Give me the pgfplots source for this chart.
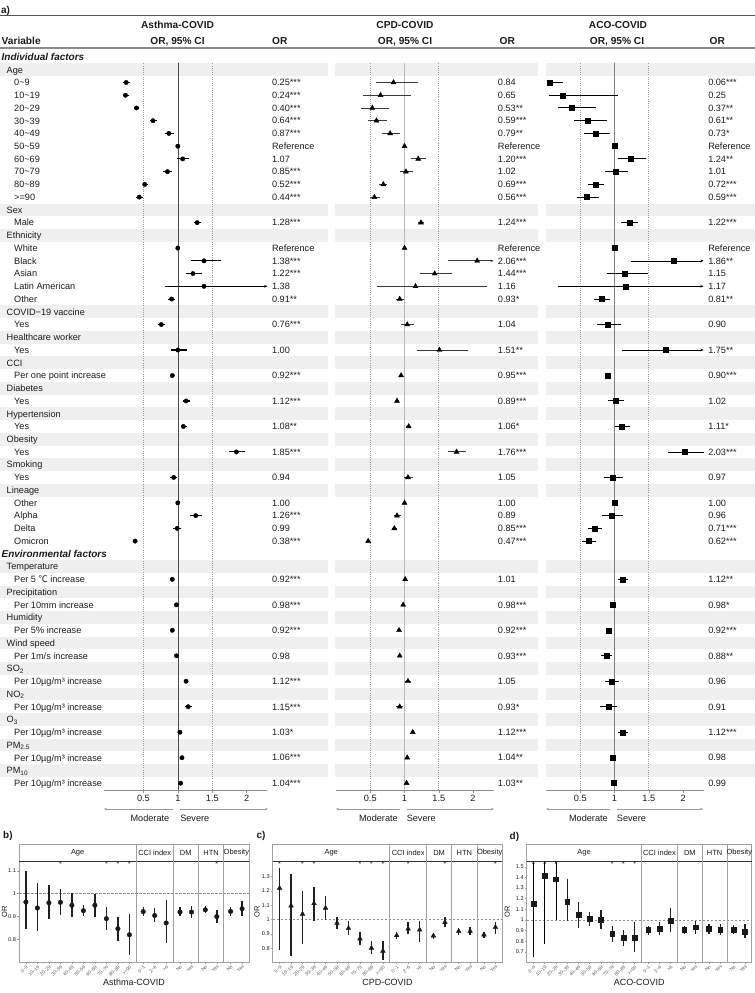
\documentclass[border=0pt]{standalone}
\usepackage{pgfplots}
\pgfplotsset{compat=1.18}
\usepackage{pgfplotstable}
\usepackage{fontspec}
\setmainfont{Liberation Sans}
\newfontfamily\cjk{Noto Sans CJK SC}
\usetikzlibrary{arrows.meta}

\definecolor{band}{HTML}{EFEFEF}
\definecolor{txt}{HTML}{1A1A1A}
\definecolor{rule}{HTML}{555555}
\definecolor{rule2}{HTML}{8A8A8A}
\definecolor{dotln}{HTML}{9A9A9A}
\definecolor{axgray}{HTML}{8A8A8A}
\definecolor{frame}{HTML}{A0A0A0}
\definecolor{ticklab}{HTML}{5A5A5A}
\definecolor{cpdci}{HTML}{3A3A3A}

\newcommand{\fs}{\fontsize{9.2}{11}\selectfont}
\newcommand{\fh}{\fontsize{10}{12}\selectfont}

% ---------- forest plot data: row (1 = Individual factors), OR, 95% CI, printed label, arrow flag
\pgfplotstableread{
row or lo hi lab arr
3 0.25 0.21 0.31 0.25*** 0
4 0.24 0.20 0.29 0.24*** 0
5 0.40 0.37 0.44 0.40*** 0
6 0.64 0.59 0.70 0.64*** 0
7 0.87 0.81 0.94 0.87*** 0
8 1 1 1 Reference 0
9 1.07 0.99 1.16 1.07 0
10 0.85 0.79 0.91 0.85*** 0
11 0.52 0.49 0.56 0.52*** 0
12 0.44 0.39 0.50 0.44*** 0
14 1.28 1.23 1.34 1.28*** 0
16 1 1 1 Reference 0
17 1.38 1.19 1.62 1.38*** 0
18 1.22 1.12 1.35 1.22*** 0
19 1.38 0.81 2.30 1.38 1
20 0.91 0.86 0.96 0.91** 0
22 0.76 0.71 0.82 0.76*** 0
24 1.00 0.90 1.13 1.00 0
26 0.92 0.91 0.93 0.92*** 0
28 1.12 1.07 1.17 1.12*** 0
30 1.08 1.04 1.13 1.08** 0
32 1.85 1.74 1.98 1.85*** 0
34 0.94 0.89 0.99 0.94 0
36 1.00 1.00 1.00 1.00 0
37 1.26 1.18 1.35 1.26*** 0
38 0.99 0.93 1.05 0.99 0
39 0.38 0.37 0.39 0.38*** 0
42 0.92 0.91 0.93 0.92*** 0
44 0.98 0.97 0.99 0.98*** 0
46 0.92 0.91 0.93 0.92*** 0
48 0.98 0.96 1.00 0.98 0
50 1.12 1.09 1.15 1.12*** 0
52 1.15 1.10 1.20 1.15*** 0
54 1.03 1.02 1.04 1.03* 0
56 1.06 1.05 1.07 1.06*** 0
58 1.04 1.03 1.05 1.04*** 0
}\asthma

\pgfplotstableread{
row or lo hi lab arr
3 0.84 0.58 1.20 0.84 0
4 0.65 0.39 1.09 0.65 0
5 0.53 0.36 0.77 0.53** 0
6 0.59 0.46 0.75 0.59*** 0
7 0.79 0.67 0.93 0.79** 0
8 1 1 1 Reference 0
9 1.20 1.09 1.32 1.20*** 0
10 1.02 0.93 1.12 1.02 0
11 0.69 0.63 0.75 0.69*** 0
12 0.56 0.49 0.64 0.56*** 0
14 1.24 1.19 1.29 1.24*** 0
16 1 1 1 Reference 0
17 2.06 1.64 2.30 2.06*** 1
18 1.44 1.23 1.69 1.44*** 0
19 1.16 0.60 2.20 1.16 0
20 0.93 0.87 0.99 0.93* 0
22 1.04 0.95 1.14 1.04 0
24 1.51 1.18 1.93 1.51** 0
26 0.95 0.94 0.96 0.95*** 0
28 0.89 0.86 0.92 0.89*** 0
30 1.06 1.02 1.10 1.06* 0
32 1.76 1.64 1.89 1.76*** 0
34 1.05 0.99 1.12 1.05 0
36 1 1 1 1.00 0
37 0.89 0.84 0.95 0.89 0
38 0.85 0.81 0.89 0.85*** 0
39 0.47 0.45 0.49 0.47*** 0
42 1.01 1.00 1.02 1.01 0
44 0.98 0.97 0.99 0.98*** 0
46 0.92 0.91 0.93 0.92*** 0
48 0.93 0.92 0.94 0.93*** 0
50 1.05 1.00 1.10 1.05 0
52 0.93 0.88 0.98 0.93* 0
54 1.12 1.11 1.13 1.12*** 0
56 1.04 1.03 1.05 1.04** 0
58 1.03 1.02 1.04 1.03** 0
}\cpd

\pgfplotstableread{
row or lo hi lab arr
3 0.06 0.01 0.25 0.06*** 0
4 0.25 0.05 1.05 0.25 0
5 0.37 0.18 0.73 0.37** 0
6 0.61 0.41 0.89 0.61** 0
7 0.73 0.55 0.94 0.73* 0
8 1 1 1 Reference 0
9 1.24 1.05 1.46 1.24** 0
10 1.01 0.86 1.19 1.01 0
11 0.72 0.61 0.84 0.72*** 0
12 0.59 0.45 0.77 0.59*** 0
14 1.22 1.10 1.34 1.22*** 0
16 1 1 1 Reference 0
17 1.86 1.24 2.30 1.86** 1
18 1.15 0.89 1.49 1.15 0
19 1.17 0.18 2.30 1.17 1
20 0.81 0.70 0.93 0.81** 0
22 0.90 0.75 1.09 0.90 0
24 1.75 1.11 2.30 1.75** 1
26 0.90 0.88 0.92 0.90*** 0
28 1.02 0.90 1.14 1.02 0
30 1.11 1.01 1.23 1.11* 0
32 2.03 1.78 2.30 2.03*** 1
34 0.97 0.84 1.12 0.97 0
36 1 1 1 1.00 0
37 0.96 0.81 1.12 0.96 0
38 0.71 0.61 0.82 0.71*** 0
39 0.62 0.52 0.73 0.62*** 0
42 1.12 1.05 1.20 1.12** 0
44 0.98 0.96 1.00 0.98* 0
46 0.92 0.90 0.94 0.92*** 0
48 0.88 0.80 0.96 0.88** 0
50 0.96 0.86 1.06 0.96 0
52 0.91 0.79 1.04 0.91 0
54 1.12 1.05 1.19 1.12*** 0
56 0.98 0.95 1.01 0.98 0
58 0.99 0.97 1.01 0.99 0
}\aco

% ---------- subgroup panels: x position, OR, 95% CI, arrow flag
\pgfplotstableread{
pos or lo hi arr
0.6 0.963 0.846 1.099 0
1.6 0.937 0.835 1.049 0
2.6 0.960 0.887 1.040 0
3.6 0.962 0.904 1.022 0
4.6 0.949 0.897 1.004 0
5.6 0.925 0.901 0.951 0
6.6 0.949 0.897 1.000 0
7.6 0.890 0.841 0.941 0
8.6 0.846 0.791 0.897 0
9.6 0.819 0.732 0.912 0
10.8 0.921 0.900 0.941 0
11.8 0.904 0.874 0.938 0
12.8 0.871 0.784 0.971 0
14.0 0.919 0.900 0.940 0
15.0 0.919 0.893 0.944 0
16.2 0.929 0.915 0.947 0
17.2 0.899 0.872 0.926 0
18.4 0.922 0.903 0.943 0
19.4 0.934 0.900 0.969 0
}\panelb

\pgfplotstableread{
pos or lo hi arr
0.6 1.220 0.785 1.363 0
1.6 1.097 0.743 1.322 0
2.6 1.039 0.831 1.201 0
3.6 1.113 0.993 1.229 0
4.6 1.081 0.998 1.164 0
5.6 0.975 0.935 1.016 0
6.6 0.940 0.889 0.993 0
7.6 0.866 0.819 0.912 0
8.6 0.801 0.757 0.850 0
9.6 0.780 0.715 0.850 0
10.8 0.889 0.866 0.912 0
11.8 0.935 0.900 0.981 0
12.8 0.928 0.843 0.993 0
14.0 0.887 0.866 0.905 0
15.0 0.981 0.947 1.016 0
16.2 0.919 0.889 0.942 0
17.2 0.919 0.889 0.951 0
18.4 0.894 0.873 0.912 0
19.4 0.947 0.900 0.986 0
}\panelc

\pgfplotstableread{
pos or lo hi arr
0.6 1.150 0.650 1.554 1
1.6 1.414 0.776 1.554 1
2.6 1.383 1.000 1.554 1
3.6 1.171 0.994 1.383 0
4.6 1.047 0.922 1.171 0
5.6 1.009 0.947 1.072 0
6.6 1.000 0.916 1.093 0
7.6 0.869 0.791 0.938 0
8.6 0.829 0.751 0.907 0
9.6 0.829 0.698 0.978 0
10.8 0.907 0.860 0.947 0
11.8 0.916 0.854 0.978 0
12.8 0.994 0.885 1.109 0
14.0 0.907 0.869 0.938 0
15.0 0.931 0.869 0.994 0
16.2 0.916 0.869 0.963 0
17.2 0.907 0.854 0.963 0
18.4 0.910 0.869 0.953 0
19.4 0.891 0.829 0.963 0
}\paneld

\pgfplotsset{
  forest/.style={
    scale only axis, anchor=north west,
    height=726.8bp, ymin=-58.55, ymax=-1.5, xmax=2.3,
    axis y line=none, axis x line*=bottom,
    x axis line style={draw=axgray, line width=0.5bp, -},
    xtick={0.5,1,1.5,2}, xticklabels={0.5,1,1.5,2},
    tick style={draw=axgray, line width=0.5bp},
    major tick length=2.5bp, tick align=outside,
    xticklabel style={font=\fs, text=txt, inner sep=2bp},
    clip=false,
  },
  orlab/.style={draw=none, mark=none, nodes near coords, point meta=explicit symbolic,
    nodes near coords style={font=\fs, text=txt, anchor=base west, inner sep=0pt, yshift=-3.3bp}},
  forestpts/.style={only marks, color=black,
    error bars/x dir=both, error bars/x explicit, error bars/error mark=none},
  facet/.style={
    scale only axis, anchor=north west, height=101bp,
    xmin=0, xmax=20, clip=false,
    axis line style={draw=frame, line width=0.6bp},
    xtick={0.6,1.6,2.6,3.6,4.6,5.6,6.6,7.6,8.6,9.6,10.8,11.8,12.8,14,15,16.2,17.2,18.4,19.4},
    xticklabels={0\textasciitilde9,10\textasciitilde19,20\textasciitilde29,30\textasciitilde39,40\textasciitilde49,50\textasciitilde59,60\textasciitilde69,70\textasciitilde79,80\textasciitilde89,{>=90},0\textasciitilde1,2\textasciitilde6,{>6},No,Yes,No,Yes,No,Yes},
    x tick label style={rotate=45, anchor=north east, font=\fontsize{4.8}{5}\selectfont, text=ticklab, inner sep=0.6bp},
    y tick label style={font=\fontsize{5.6}{6.5}\selectfont, text=txt, inner sep=1bp},
    tick style={draw=frame, line width=0.5bp}, major tick length=1.8bp, tick align=outside,
    tick pos=left,
    ylabel={OR}, ylabel style={font=\fontsize{7.5}{8.5}\selectfont, text=txt, inner sep=0bp, anchor=center},
  },
  subpts/.style={only marks, color=black!90,
    error bars/y dir=both, error bars/y explicit, error bars/error mark=none,
    error bars/error bar style={line width=1.4bp, black!88}},
}

% facet strip, panel separators and reference line
\newcommand{\facetdecor}[1]{%
  \draw[black!45, dashed, dash pattern=on 2.5bp off 1.5bp, line width=0.6bp] (axis cs:0,1) -- (axis cs:20,1);
  \draw[frame, line width=0.6bp] (rel axis cs:0,1) rectangle (rel axis cs:1,1.168);
  \draw[black!80, line width=0.9bp] (rel axis cs:0,1) -- (rel axis cs:1,1);
  \draw[frame, line width=0.6bp] (rel axis cs:0.51,0) -- (rel axis cs:0.51,1.168);
  \draw[frame, line width=0.6bp] (rel axis cs:0.67,0) -- (rel axis cs:0.67,1.168);
  \draw[frame, line width=0.6bp] (rel axis cs:0.78,0) -- (rel axis cs:0.78,1.168);
  \draw[frame, line width=0.6bp] (rel axis cs:0.89,0) -- (rel axis cs:0.89,1.168);
  \begin{scope}[font=\fontsize{7.5}{8}\selectfont, text=txt]
  \node at (rel axis cs:0.255,1.084) {Age};
  \node at (rel axis cs:0.59,1.084) {CCI index};
  \node at (rel axis cs:0.725,1.084) {DM};
  \node at (rel axis cs:0.835,1.084) {HTN};
  \node at (rel axis cs:0.945,1.084) {Obesity};
  \end{scope}
  \node[font=\fontsize{9}{10}\selectfont, text=txt, anchor=base] at (rel axis cs:0.5,0) [yshift=-23bp] {#1};
}

\begin{document}
\begin{tikzpicture}
\path[use as bounding box] (0,0) rectangle (755bp,-993bp);

\begin{scope}[x=1bp,y=1bp]
  % shaded group-header rows
  \foreach \rw in {2,13,15,21,23,25,27,29,31,33,35,41,43,45,47,49,51,53,55,57} {
    \fill[band] (0,{-(57+(\rw-1)*12.74)+6.37}) rectangle (328,{-(57+(\rw-1)*12.74)-6.37});
    \fill[band] (335,{-(57+(\rw-1)*12.74)+6.37}) rectangle (538,{-(57+(\rw-1)*12.74)-6.37});
    \fill[band] (546,{-(57+(\rw-1)*12.74)+6.37}) rectangle (755,{-(57+(\rw-1)*12.74)-6.37});
  }
  % header
  \node[anchor=base west, inner sep=0, font=\bfseries\fh, text=txt] at (1,-13) {a)};
  \draw[rule, line width=0.9bp] (0,-15.5) -- (755,-15.5);
  \draw[rule2, line width=1.8bp] (0,-48) -- (755,-48);
  \begin{scope}[font=\bfseries\fontsize{10.2}{12}\selectfont, text=txt, inner sep=0]
    \node[anchor=base] at (177.5,-28.5) {Asthma-COVID};
    \node[anchor=base] at (405,-28.5) {CPD-COVID};
    \node[anchor=base] at (618,-28.5) {ACO-COVID};
    \node[anchor=base west] at (1.5,-44) {Variable};
    \node[anchor=base] at (177.5,-44) {OR, 95\% CI};
    \node[anchor=base] at (405,-44) {OR, 95\% CI};
    \node[anchor=base] at (617,-44) {OR, 95\% CI};
    \node[anchor=base west] at (272,-44) {OR};
    \node[anchor=base west] at (499.5,-44) {OR};
    \node[anchor=base west] at (709.5,-44) {OR};
    \node[anchor=base west, font=\bfseries\itshape\fontsize{10}{12}\selectfont] at (1.5,-60.5) {Individual factors};
    \node[anchor=base west, font=\bfseries\itshape\fontsize{10}{12}\selectfont] at (1.5,{-(57+39*12.74)-3.5}) {Environmental factors};
  \end{scope}
  % variable column
  \begin{scope}[font=\fs, text=txt, inner sep=0]
  \foreach \rw/\lb in {2/Age,13/Sex,15/Ethnicity,21/{COVID−19 vaccine},23/{Healthcare worker},25/CCI,27/Diabetes,29/Hypertension,31/Obesity,33/Smoking,35/Lineage,41/Temperature,43/Precipitation,45/Humidity,47/{Wind speed},49/{SO\textsubscript{2}},51/{NO\textsubscript{2}},53/{O\textsubscript{3}},55/{PM\textsubscript{2.5}},57/{PM\textsubscript{10}}}
    \node[anchor=base west] at (6.5,{-(57+(\rw-1)*12.74)-3.3}) {\lb};
  \foreach \rw/\lb in {3/0\textasciitilde9,4/10\textasciitilde19,5/20\textasciitilde29,6/30\textasciitilde39,7/40\textasciitilde49,8/50\textasciitilde59,9/60\textasciitilde69,10/70\textasciitilde79,11/80\textasciitilde89,12/{>=90},14/Male,16/White,17/Black,18/Asian,19/{Latin American},20/Other,22/Yes,24/Yes,26/{Per one point increase},28/Yes,30/Yes,32/Yes,34/Yes,36/Other,37/Alpha,38/Delta,39/Omicron,42/{Per 5 {\cjk ℃} increase},44/{Per 10mm increase},46/{Per 5\% increase},48/{Per 1m/s increase},50/{Per 10µg/m³ increase},52/{Per 10µg/m³ increase},54/{Per 10µg/m³ increase},56/{Per 10µg/m³ increase},58/{Per 10µg/m³ increase}}
    \node[anchor=base west] at (14,{-(57+(\rw-1)*12.74)-3.3}) {\lb};
  \end{scope}
  % direction arrows under each forest column
  \begin{scope}[draw=black!40, line width=0.5bp, font=\fs, text=txt, inner sep=0]
    \draw[-{Stealth[length=3bp,width=2.4bp]}] (173.3,-809) -- (104,-809);
    \draw[-{Stealth[length=3bp,width=2.4bp]}] (180,-809) -- (268,-809);
    \node[anchor=base east] at (169.5,-821) {Moderate};
    \node[anchor=base west] at (180,-821) {Severe};
    \draw[-{Stealth[length=3bp,width=2.4bp]}] (400,-809) -- (336,-809);
    \draw[-{Stealth[length=3bp,width=2.4bp]}] (406.5,-809) -- (494,-809);
    \node[anchor=base east] at (398,-821) {Moderate};
    \node[anchor=base west] at (406.5,-821) {Severe};
    \draw[-{Stealth[length=3bp,width=2.4bp]}] (610,-809) -- (546,-809);
    \draw[-{Stealth[length=3bp,width=2.4bp]}] (616.7,-809) -- (703,-809);
    \node[anchor=base east] at (608,-821) {Moderate};
    \node[anchor=base west] at (616.7,-821) {Severe};
  \end{scope}
  % panel tags
  \begin{scope}[font=\bfseries\fh, text=txt, inner sep=0]
    \node[anchor=base west] at (3,-838) {b)};
    \node[anchor=base west] at (256.5,-838) {c)};
    \node[anchor=base west] at (509.5,-839) {d)};
  \end{scope}
\end{scope}

% ---------------- Asthma-COVID
\begin{axis}[forest, at={(104.1bp,-63.37bp)}, width=163.3bp, xmin=-0.07]
  \draw[dotln, line width=0.6bp, dash pattern=on 1bp off 1.2bp] (axis cs:0.5,-1.5) -- (axis cs:0.5,-58.55);
  \draw[dotln, line width=0.6bp, dash pattern=on 1bp off 1.2bp] (axis cs:1.5,-1.5) -- (axis cs:1.5,-58.55);
  \draw[black!70, line width=0.6bp] (axis cs:1,-1.5) -- (axis cs:1,-58.55);
  \addplot[forestpts, mark=*, mark size=2.2bp, error bars/error bar style={line width=1.1bp, black}]
    table[x=or, y expr=-\thisrow{row},
      x error plus expr=(1-\thisrow{arr})*(\thisrow{hi}-\thisrow{or}),
      x error minus expr=(1-\thisrow{arr})*(\thisrow{or}-\thisrow{lo})] {\asthma};
  \addplot[black, line width=0.55bp, -{Stealth[length=3.2bp,width=2.6bp]}] coordinates {(0.81,-19) (2.30,-19)};
  \addplot[orlab] table[x expr=2.365, y expr=-\thisrow{row}, meta=lab] {\asthma};
\end{axis}

% ---------------- CPD-COVID
\begin{axis}[forest, at={(336bp,-63.37bp)}, width=157.6bp, xmin=0]
  \draw[dotln, line width=0.6bp, dash pattern=on 1bp off 1.2bp] (axis cs:0.5,-1.5) -- (axis cs:0.5,-58.55);
  \draw[dotln, line width=0.6bp, dash pattern=on 1bp off 1.2bp] (axis cs:1.5,-1.5) -- (axis cs:1.5,-58.55);
  \draw[black!28, line width=1.8bp] (axis cs:1,-1.5) -- (axis cs:1,-58.55);
  \addplot[forestpts, mark=triangle*, mark size=2.9bp, error bars/error bar style={line width=0.9bp, cpdci}]
    table[x=or, y expr=-\thisrow{row},
      x error plus expr=(1-\thisrow{arr})*(\thisrow{hi}-\thisrow{or}),
      x error minus expr=(1-\thisrow{arr})*(\thisrow{or}-\thisrow{lo})] {\cpd};
  \addplot[cpdci, line width=0.8bp, -{Stealth[length=3.2bp,width=2.6bp]}] coordinates {(1.64,-17) (2.30,-17)};
  \addplot[orlab] table[x expr=2.36, y expr=-\thisrow{row}, meta=lab] {\cpd};
\end{axis}

% ---------------- ACO-COVID
\begin{axis}[forest, at={(546bp,-63.37bp)}, width=157.6bp, xmin=0]
  \draw[dotln, line width=0.6bp, dash pattern=on 1bp off 1.2bp] (axis cs:0.5,-1.5) -- (axis cs:0.5,-58.55);
  \draw[dotln, line width=0.6bp, dash pattern=on 1bp off 1.2bp] (axis cs:1.5,-1.5) -- (axis cs:1.5,-58.55);
  \draw[black!50, line width=0.8bp] (axis cs:1,-1.5) -- (axis cs:1,-58.55);
  \addplot[forestpts, mark=square*, mark size=2.5bp, error bars/error bar style={line width=1.0bp, black}]
    table[x=or, y expr=-\thisrow{row},
      x error plus expr=(1-\thisrow{arr})*(\thisrow{hi}-\thisrow{or}),
      x error minus expr=(1-\thisrow{arr})*(\thisrow{or}-\thisrow{lo})] {\aco};
  \addplot[black, line width=0.55bp, -{Stealth[length=3.2bp,width=2.6bp]}] coordinates {(1.24,-17) (2.30,-17)};
  \addplot[black, line width=0.55bp, -{Stealth[length=3.2bp,width=2.6bp]}] coordinates {(0.18,-19) (2.30,-19)};
  \addplot[black, line width=0.55bp, -{Stealth[length=3.2bp,width=2.6bp]}] coordinates {(1.11,-24) (2.30,-24)};
  \addplot[black, line width=0.55bp] coordinates {(1.78,-32) (2.30,-32)};
  \addplot[orlab] table[x expr=2.365, y expr=-\thisrow{row}, meta=lab] {\aco};
\end{axis}

% ---------------- b) Asthma-COVID subgroups
\begin{axis}[facet, at={(19bp,-861bp)}, width=230bp, ymin=0.699, ymax=1.144,
  ytick={0.8,0.9,1,1.1}, yticklabels={0.8,0.9,1,1.1},
  ylabel style={at={(rel axis cs:-0.0625,0.5)}}]
  \facetdecor{Asthma-COVID}
  \addplot[subpts, mark=*, mark size=2.3bp]
    table[x=pos, y=or, y error plus expr=\thisrow{hi}-\thisrow{or}, y error minus expr=\thisrow{or}-\thisrow{lo}] {\panelb};
  \pgfplotsinvokeforeach{3.6,7.6,8.6,9.6,17.2}{\node[font=\fontsize{7}{7}\selectfont, text=txt, anchor=north, inner sep=0] at (axis cs:#1,1.144) {*};}
\end{axis}

% ---------------- c) CPD-COVID subgroups
\begin{axis}[facet, at={(272.7bp,-861bp)}, width=229.6bp, ymin=0.703, ymax=1.41,
  ytick={0.8,0.9,1,1.1,1.2,1.3}, yticklabels={0.8,0.9,1,1.1,1.2,1.3},
  ylabel style={at={(rel axis cs:-0.068,0.5)}}]
  \facetdecor{CPD-COVID}
  \addplot[subpts, mark=triangle*, mark size=2.7bp]
    table[x=pos, y=or, y error plus expr=\thisrow{hi}-\thisrow{or}, y error minus expr=\thisrow{or}-\thisrow{lo}] {\panelc};
  \pgfplotsinvokeforeach{0.6,2.6,3.6,7.6,8.6,9.6,11.8,15,19.4}{\node[font=\fontsize{7}{7}\selectfont, text=txt, anchor=north, inner sep=0] at (axis cs:#1,1.41) {*};}
\end{axis}

% ---------------- d) ACO-COVID subgroups
\begin{axis}[facet, at={(526.7bp,-861bp)}, width=225bp, ymin=0.604, ymax=1.554,
  ytick={0.7,0.8,0.9,1,1.1,1.2,1.3,1.4,1.5}, yticklabels={0.7,0.8,0.9,1,1.1,1.2,1.3,1.4,1.5},
  ylabel style={at={(rel axis cs:-0.086,0.5)}}]
  \facetdecor{ACO-COVID}
  \addplot[subpts, mark=square*, mark size=2.4bp]
    table[x=pos, y=or,
      y error plus expr=(1-\thisrow{arr})*(\thisrow{hi}-\thisrow{or}),
      y error minus expr=(1-\thisrow{arr})*(\thisrow{or}-\thisrow{lo})] {\paneld};
  \addplot[black, line width=0.6bp, -{Stealth[length=3bp,width=2.5bp]}] coordinates {(0.6,0.650) (0.6,1.554)};
  \addplot[black, line width=0.6bp, -{Stealth[length=3bp,width=2.5bp]}] coordinates {(1.6,0.776) (1.6,1.554)};
  \addplot[black, line width=0.6bp, -{Stealth[length=3bp,width=2.5bp]}] coordinates {(2.6,1.000) (2.6,1.554)};
  \pgfplotsinvokeforeach{7.6,8.6,9.6}{\node[font=\fontsize{7}{7}\selectfont, text=txt, anchor=north, inner sep=0] at (axis cs:#1,1.554) {*};}
\end{axis}
\end{tikzpicture}
\end{document}
